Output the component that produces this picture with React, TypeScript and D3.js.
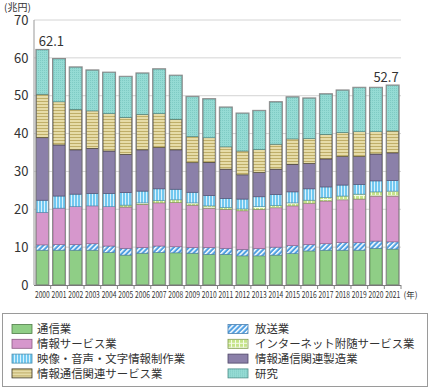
import React, { useEffect, useRef } from 'react';
import * as d3 from 'd3';

// 年
const years = [
  '2000', '2001', '2002', '2003', '2004', '2005', '2006', '2007', '2008', '2009', '2010',
  '2011', '2012', '2013', '2014', '2015', '2016', '2017', '2018', '2019', '2020', '2021',
];

// 兆円
const tsushin = [9.2, 9.2, 9.2, 9.2, 8.6, 7.9, 8.4, 8.6, 8.5, 8.4, 8.1, 8.1, 7.7, 7.7, 7.9, 8.3, 9.0, 9.2, 9.2, 9.2, 9.7, 9.5];
const hoso = [1.4, 1.5, 1.5, 1.7, 1.7, 1.8, 1.5, 1.7, 1.6, 1.5, 1.8, 1.6, 1.7, 1.9, 2.1, 2.1, 1.7, 1.7, 2.0, 2.0, 1.9, 1.9];
const johoService = [8.6, 9.6, 10.0, 10.0, 10.4, 10.9, 11.4, 11.4, 11.7, 11.2, 10.4, 10.3, 10.2, 10.4, 10.4, 10.5, 10.9, 11.3, 11.3, 11.5, 11.9, 12.1];
const internet = [0, 0, 0, 0, 0, 0.5, 0.4, 0.6, 0.7, 0.6, 0.6, 0.5, 0.5, 0.7, 0.6, 0.8, 0.8, 0.9, 1.0, 1.3, 1.1, 1.3];
const eizo = [3.2, 3.2, 3.3, 3.3, 3.5, 3.3, 3.1, 3.1, 2.8, 2.8, 2.7, 2.4, 2.6, 2.6, 2.9, 2.9, 3.0, 2.8, 2.9, 2.6, 2.9, 2.8];
const seizo = [16.5, 13.5, 11.7, 11.9, 11.2, 10.1, 10.9, 10.9, 10.4, 7.8, 8.8, 7.7, 6.4, 6.4, 6.7, 7.3, 6.7, 7.4, 7.5, 7.3, 7.1, 7.3];
const kanrenService = [11.5, 11.4, 10.7, 9.9, 9.9, 9.8, 9.4, 9.0, 8.1, 6.9, 6.5, 5.9, 6.3, 6.1, 6.6, 6.7, 6.6, 6.5, 6.4, 6.6, 5.9, 5.8];
const kenkyu = [11.7, 11.3, 11.1, 10.7, 10.8, 10.7, 10.8, 11.7, 11.5, 10.5, 10.2, 10.4, 9.9, 10.2, 11.1, 11.0, 10.6, 10.6, 11.1, 11.6, 11.6, 12.0];

const yTicks = [0, 10, 20, 30, 40, 50, 60, 70];

const seriesNames = [
  '通信業',
  '放送業',
  '情報サービス業',
  'インターネット附随サービス業',
  '映像・音声・文字情報制作業',
  '情報通信関連製造業',
  '情報通信関連サービス業',
  '研究',
];

const FONT = '"Noto Sans CJK JP", "Noto Sans", sans-serif';

const Chart = () => {
  const ref = useRef<HTMLDivElement>(null);

  useEffect(() => {
    const width = 430;
    const height = 388;

    const columns = [tsushin, hoso, johoService, internet, eizo, seizo, kanrenService, kenkyu];
    const keys = seriesNames;
    // fill + stroke of each series (patterns are defined below)
    const fills = ['#8fce86', 'url(#p-hoso)', '#d697cc', 'url(#p-net)', 'url(#p-eizo)', '#8b80a9', 'url(#p-kanren)', 'url(#p-kenkyu)'];
    const strokes = ['#4f7d48', '#4a7fb0', '#8a5a82', '#7f9a4e', '#4a8fb0', '#4d4466', '#3a3420', '#4f8e89'];

    const table = years.map((year, i) => {
      const row: any = { year };
      keys.forEach((k, j) => (row[k] = columns[j][i]));
      return row;
    });

    const stacked = d3.stack().keys(keys)(table);

    const x = d3.scaleBand().domain(years).range([34, 401]).paddingInner(0.28).paddingOuter(0.14);
    const y = d3.scaleLinear().domain([0, 70]).range([285, 20]);

    const svg = d3
      .create('svg')
      .attr('width', width)
      .attr('height', height)
      .style('position', 'absolute')
      .style('left', '0px')
      .style('top', '0px')
      .style('font-family', FONT);

    // patterns
    const defs = svg.append('defs');
    const hosoP = defs.append('pattern').attr('id', 'p-hoso').attr('patternUnits', 'userSpaceOnUse')
      .attr('width', 3.6).attr('height', 3.6).attr('patternTransform', 'rotate(45)');
    hosoP.append('rect').attr('width', 3.6).attr('height', 3.6).attr('fill', '#4f9fe2');
    hosoP.append('rect').attr('width', 1.5).attr('height', 3.6).attr('fill', '#ffffff');

    const netP = defs.append('pattern').attr('id', 'p-net').attr('patternUnits', 'userSpaceOnUse')
      .attr('width', 4).attr('height', 4);
    netP.append('rect').attr('width', 4).attr('height', 4).attr('fill', '#c6e48a');
    netP.append('rect').attr('x', 3).attr('width', 1).attr('height', 4).attr('fill', '#f4fbe6');
    netP.append('rect').attr('y', 3).attr('width', 4).attr('height', 1).attr('fill', '#f4fbe6');

    const eizoP = defs.append('pattern').attr('id', 'p-eizo').attr('patternUnits', 'userSpaceOnUse')
      .attr('width', 3).attr('height', 3);
    eizoP.append('rect').attr('width', 3).attr('height', 3).attr('fill', '#72c8f0');
    eizoP.append('rect').attr('x', 2).attr('width', 1).attr('height', 3).attr('fill', '#d8f1fc');

    const kanrenP = defs.append('pattern').attr('id', 'p-kanren').attr('patternUnits', 'userSpaceOnUse')
      .attr('width', 3).attr('height', 3);
    kanrenP.append('rect').attr('width', 3).attr('height', 3).attr('fill', '#e6dca8');
    kanrenP.append('rect').attr('y', 2).attr('width', 3).attr('height', 1).attr('fill', '#bfae68');

    const kenkyuP = defs.append('pattern').attr('id', 'p-kenkyu').attr('patternUnits', 'userSpaceOnUse')
      .attr('width', 2).attr('height', 2);
    kenkyuP.append('rect').attr('width', 2).attr('height', 2).attr('fill', '#95dbd4');
    kenkyuP.append('rect').attr('width', 1).attr('height', 1).attr('fill', '#7fcbc4');

    // gridlines
    svg.append('g')
      .selectAll('line')
      .data(yTicks.filter((t) => t > 0))
      .enter()
      .append('line')
      .attr('x1', 34)
      .attr('x2', 401)
      .attr('y1', (d) => y(d))
      .attr('y2', (d) => y(d))
      .attr('stroke', '#d4d4d4')
      .attr('stroke-width', 1);

    // y tick labels
    svg.append('g')
      .selectAll('text')
      .data(yTicks)
      .enter()
      .append('text')
      .attr('x', 28.5)
      .attr('y', (d) => y(d))
      .attr('dy', '0.36em')
      .attr('text-anchor', 'end')
      .attr('font-size', 13)
      .attr('fill', '#333')
      .text((d) => d);

    svg.append('text')
      .attr('x', 4)
      .attr('y', 10.5)
      .attr('font-size', 10)
      .attr('fill', '#333')
      .text('(兆円)');

    // stacked bars
    const layers = svg.append('g')
      .selectAll('g')
      .data(stacked)
      .enter()
      .append('g')
      .attr('fill', (d, i) => fills[i])
      .attr('stroke', (d, i) => strokes[i]);

    layers
      .selectAll('rect')
      .data((d) => d.filter((s) => s[1] - s[0] > 0))
      .enter()
      .append('rect')
      .attr('x', (d: any) => x(d.data.year)!)
      .attr('width', x.bandwidth())
      .attr('y', (d) => y(d[1]))
      .attr('height', (d) => y(d[0]) - y(d[1]))
      .attr('stroke-width', 0.6);

    // bar outlines
    const totals = table.map((row) => ({ year: row.year, total: d3.sum(keys, (k) => row[k]) }));
    svg.append('g')
      .selectAll('rect')
      .data(totals)
      .enter()
      .append('rect')
      .attr('x', (d) => x(d.year)! - 0.5)
      .attr('width', x.bandwidth() + 1)
      .attr('y', (d) => y(d.total) - 0.5)
      .attr('height', (d) => y(0) - y(d.total) + 0.5)
      .attr('fill', 'none')
      .attr('stroke', '#8c8c8c')
      .attr('stroke-width', 1);

    // axes
    svg.append('line').attr('x1', 34).attr('x2', 34).attr('y1', 20).attr('y2', 285)
      .attr('stroke', '#999').attr('stroke-width', 1);
    svg.append('line').attr('x1', 34).attr('x2', 401).attr('y1', 285.5).attr('y2', 285.5)
      .attr('stroke', '#777').attr('stroke-width', 1);

    const gap = x.step() * x.paddingInner();
    svg.append('g')
      .selectAll('line')
      .data(years)
      .enter()
      .append('line')
      .attr('x1', (d) => x(d)! + x.bandwidth() + gap / 2)
      .attr('x2', (d) => x(d)! + x.bandwidth() + gap / 2)
      .attr('y1', 285)
      .attr('y2', 289)
      .attr('stroke', '#888')
      .attr('stroke-width', 1);

    // x labels, squeezed horizontally so 4 digits fit in one step
    svg.append('g')
      .selectAll('text')
      .data(years)
      .enter()
      .append('text')
      .attr('transform', (d) => `translate(${x(d)! + x.bandwidth() / 2},298) scale(0.78,1)`)
      .attr('text-anchor', 'middle')
      .attr('font-size', 8.6)
      .attr('fill', '#333')
      .text((d) => d);

    svg.append('text')
      .attr('x', 403.5)
      .attr('y', 298)
      .attr('font-size', 8.5)
      .attr('fill', '#333')
      .text('(年)');

    // first / last totals
    const fmt = d3.format('.1f');
    const first = totals[0];
    const last = totals[totals.length - 1];
    svg.append('text')
      .attr('x', x(first.year)! + 2.5)
      .attr('y', y(first.total) - 3.5)
      .attr('font-size', 13)
      .attr('fill', '#333')
      .text(fmt(first.total));
    svg.append('text')
      .attr('x', x(last.year)! + x.bandwidth())
      .attr('y', y(last.total) - 3.5)
      .attr('text-anchor', 'end')
      .attr('font-size', 13)
      .attr('fill', '#333')
      .text(fmt(last.total));

    // legend
    svg.append('rect')
      .attr('x', 2.5)
      .attr('y', 313.5)
      .attr('width', 425)
      .attr('height', 73)
      .attr('fill', 'none')
      .attr('stroke', '#9a9a9a')
      .attr('stroke-width', 1);

    const legendRowY = [329, 343.8, 358.6, 373.4];
    const legend = svg.append('g')
      .selectAll('g')
      .data(keys)
      .enter()
      .append('g')
      .attr('transform', (d, i) => `translate(${i % 2 === 0 ? 12 : 228},${legendRowY[Math.floor(i / 2)]})`);

    legend.append('rect')
      .attr('x', 0)
      .attr('y', -4.5)
      .attr('width', 20)
      .attr('height', 9)
      .attr('fill', (d, i) => fills[i])
      .attr('stroke', (d, i) => strokes[i])
      .attr('stroke-width', 0.8);

    legend.append('text')
      .attr('x', (d, i) => (i % 2 === 0 ? 25 : 27))
      .attr('y', 0)
      .attr('dy', '0.38em')
      .attr('font-size', 11.4)
      .attr('fill', '#333')
      .text((d) => d);

    ref.current!.innerHTML = '';
    ref.current!.appendChild(svg.node()!);
  }, []);

  return <div ref={ref}></div>;
};

export default function App() {
  return <Chart />;
}
